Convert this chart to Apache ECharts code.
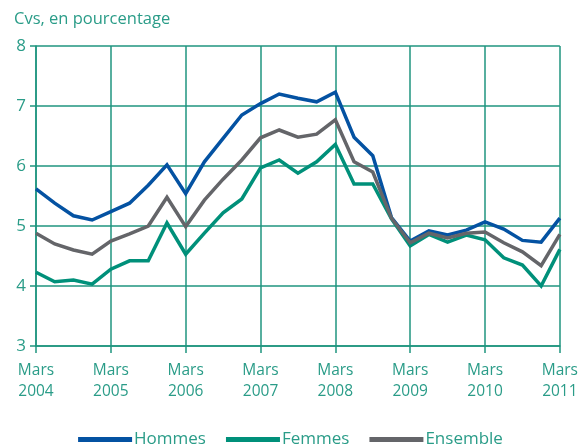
<!DOCTYPE html>
<html>
<head>
<meta charset="utf-8">
<script src="https://cdn.jsdelivr.net/npm/echarts@6/dist/echarts.min.js"></script>
<style>
    html, body { margin: 0; padding: 0; background: #fff; }
    #Root { width: 581px; height: 446px; }
</style>
</head>
<body>
<div id="Root"></div>
<script>
// trimestres, mars 2004 -> mars 2011
let Years = [2004, 2005, 2006, 2007, 2008, 2009, 2010, 2011]
let Quarters = []
Years.forEach((y, i) => {
    let months = i == Years.length - 1 ? ["Mars"] : ["Mars", "Juin", "Sept", "Déc"]
    months.forEach(m => Quarters.push(m + " " + y))
})

let Hommes = [5.62, 5.38, 5.17, 5.10, 5.24, 5.38, 5.68, 6.02, 5.54, 6.07, 6.46, 6.85,
    7.04, 7.20, 7.13, 7.07, 7.23, 6.48, 6.17, 5.14, 4.75, 4.92, 4.85, 4.93,
    5.07, 4.95, 4.76, 4.73, 5.13]
let Femmes = [4.23, 4.07, 4.10, 4.03, 4.28, 4.42, 4.42, 5.05, 4.53, 4.88, 5.22, 5.45,
    5.97, 6.10, 5.88, 6.07, 6.36, 5.70, 5.70, 5.12, 4.67, 4.86, 4.73, 4.85,
    4.77, 4.47, 4.35, 4.00, 4.61]
let Ensemble = [4.88, 4.70, 4.60, 4.53, 4.75, 4.87, 5.00, 5.48, 4.99, 5.43, 5.78, 6.10,
    6.47, 6.60, 6.48, 6.53, 6.77, 6.07, 5.90, 5.13, 4.72, 4.88, 4.80, 4.88,
    4.90, 4.72, 4.57, 4.34, 4.86]

let Teal = '#2a9c88'
let GridColor = '#1f957f'

let chart = echarts.init(document.getElementById("Root"))

function MakeSeries(name, data, color) {
    return {
        name: name,
        type: 'line',
        data: data,
        symbol: 'none',
        lineStyle: { color: color, width: 3.5, join: 'miter' },
        itemStyle: { color: color }
    }
}

chart.setOption({
    animation: false,
    title: {
        text: "Cvs, en pourcentage",
        left: 9,
        top: 6,
        textStyle: { color: Teal, fontSize: 16.5, fontWeight: 'normal', fontFamily: 'Open Sans' }
    },
    grid: { left: 36, right: 19, top: 46, bottom: 100 },
    legend: {
        top: 431,
        left: 'center',
        padding: 0,
        icon: 'rect',
        itemWidth: 54,
        itemHeight: 5,
        itemGap: 20,
        textStyle: { color: Teal, fontSize: 17, fontFamily: 'Open Sans', padding: [0, 0, 0, -3] },
        data: ["Hommes", "Femmes", "Ensemble"]
    },
    xAxis: {
        type: 'category',
        boundaryGap: false,
        data: Quarters,
        axisLine: { lineStyle: { color: GridColor, width: 1.5 } },
        axisTick: { interval: 3, length: 7, lineStyle: { color: GridColor, width: 1.5 } },
        splitLine: { show: true, interval: 3, lineStyle: { color: GridColor, width: 1.5 } },
        axisLabel: {
            interval: 3,
            color: Teal,
            fontSize: 15.5,
            fontFamily: 'Open Sans',
            lineHeight: 21,
            margin: 14,
            formatter: v => v.replace(" ", "\n")
        }
    },
    yAxis: {
        type: 'value',
        min: 3,
        max: 8,
        interval: 1,
        axisLine: { show: true, lineStyle: { color: GridColor, width: 1.5 } },
        axisTick: { show: true, length: 6, lineStyle: { color: GridColor, width: 1.5 } },
        splitLine: { lineStyle: { color: GridColor, width: 1.5 } },
        axisLabel: { color: Teal, fontSize: 17, fontFamily: 'Open Sans', margin: 10 }
    },
    series: [
        MakeSeries("Hommes", Hommes, '#0452a2'),
        MakeSeries("Femmes", Femmes, '#00907a'),
        MakeSeries("Ensemble", Ensemble, '#646569')
    ]
})
</script>
</body>
</html>
